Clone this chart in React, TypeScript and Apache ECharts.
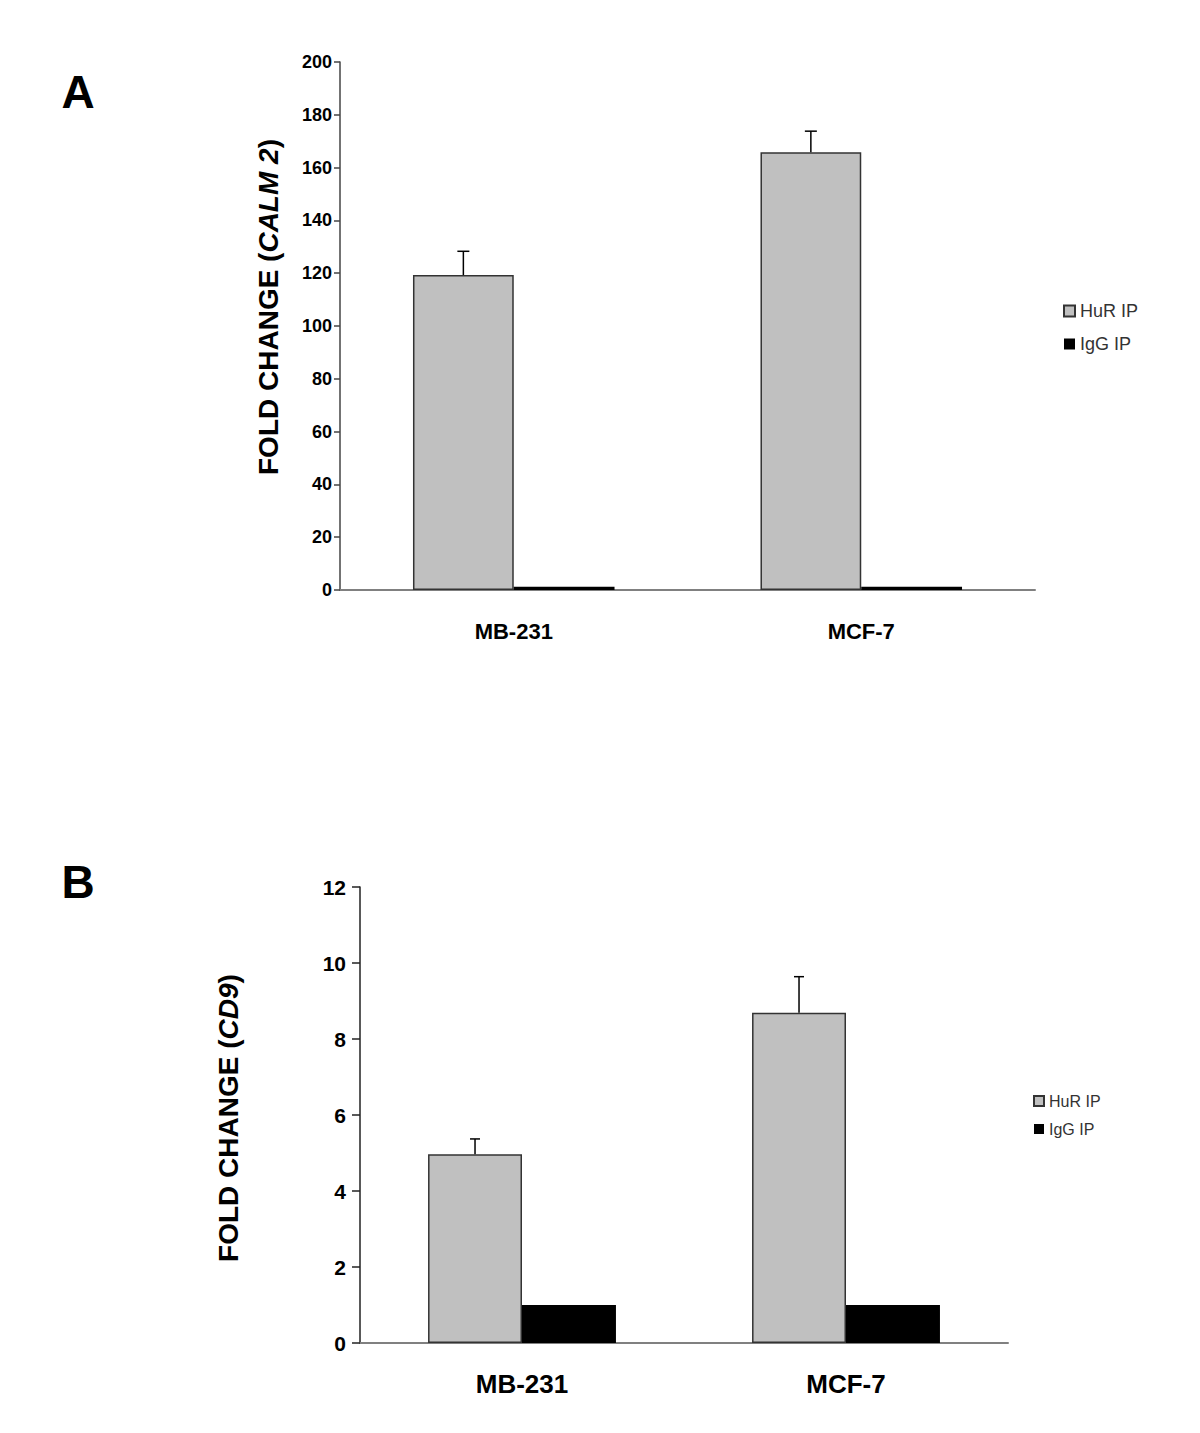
import React, { useEffect, useRef } from "react";
import * as echarts from "echarts";

const categories = ["MB-231", "MCF-7"];
const seriesNames = ["HuR IP", "IgG IP"];

// Panel A (CALM 2)
const hurA = [119.3, 165.8];
const hurErrA = [9, 8];
const iggA = [1.2, 1.2];
const ticksA = { min: 0, max: 200, interval: 20 };

// Panel B (CD9)
const hurB = [4.97, 8.69];
const hurErrB = [0.4, 0.95];
const iggB = [1.0, 1.0];
const ticksB = { min: 0, max: 12, interval: 2 };

const GAP = 0.42;
const NARROW = "'Liberation Sans Narrow', 'Arial Narrow', 'Liberation Sans', Arial, sans-serif";
const ARIAL = "'Liberation Sans', Arial, sans-serif";

function errorSeries(idx: number, values: number[], errs: number[], cap: number) {
  return {
    type: "custom",
    xAxisIndex: idx,
    yAxisIndex: idx,
    z: 5,
    silent: true,
    encode: { x: 0, y: 1 },
    data: values.map((v, i) => [i, v, errs[i]]),
    renderItem: (params: any, api: any) => {
      const ci = api.value(0);
      const v = api.value(1);
      const e = api.value(2);
      const base = api.coord([ci, v]);
      const topPt = api.coord([ci, v + e]);
      const band = api.size([1, 0])[0];
      const barW = (band * (1 - GAP)) / 2;
      const cx = base[0] - barW / 2;
      const style = { stroke: "#000", lineWidth: 1.5 };
      return {
        type: "group",
        children: [
          { type: "line", shape: { x1: cx, y1: base[1], x2: cx, y2: topPt[1] }, style },
          { type: "line", shape: { x1: cx - cap, y1: topPt[1], x2: cx + cap, y2: topPt[1] }, style },
        ],
      };
    },
  };
}

function titleText(x: number, y: number, italicPart: string) {
  return {
    type: "text",
    x,
    y,
    rotation: Math.PI / 2,
    style: {
      text: "{n|FOLD CHANGE (}{i|" + italicPart + "}{n|)}",
      align: "center",
      verticalAlign: "middle",
      rich: {
        n: { fontSize: 28, fontWeight: "bold", fontFamily: ARIAL, fill: "#000", color: "#000" },
        i: { fontSize: 28, fontWeight: "bold", fontStyle: "italic", fontFamily: ARIAL, fill: "#000", color: "#000" },
      },
    },
  };
}

export default function App() {
  const ref = useRef<HTMLDivElement>(null);
  useEffect(() => {
    document.body.style.margin = "0";
    const chart = echarts.init(ref.current!, null, { renderer: "svg" });
    const hurStyle = { color: "#c0c0c0", borderColor: "#333", borderWidth: 1.5 };
    const iggStyle = { color: "#000" };
    const option: any = {
      animation: false,
      backgroundColor: "#fff",
      grid: [
        { left: 340, top: 62, width: 695, height: 528 },
        { left: 360, top: 887, width: 648, height: 456 },
      ],
      legend: [
        {
          data: seriesNames,
          orient: "vertical",
          left: 1058,
          top: 297,
          itemWidth: 11,
          itemHeight: 11,
          itemGap: 15,
          icon: "rect",
          textStyle: { fontSize: 18, color: "#333", fontFamily: ARIAL },
        },
        {
          data: seriesNames,
          orient: "vertical",
          left: 1028,
          top: 1088,
          itemWidth: 10,
          itemHeight: 10,
          itemGap: 12,
          icon: "rect",
          textStyle: { fontSize: 16, color: "#333", fontFamily: ARIAL },
        },
      ],
      xAxis: [0, 1].map((i) => ({
        type: "category",
        gridIndex: i,
        data: categories,
        axisTick: { show: false },
        axisLine: { lineStyle: { color: "#808080", width: 2 } },
        axisLabel: {
          color: "#000",
          fontWeight: "bold",
          fontFamily: NARROW,
          fontSize: i === 0 ? 22 : 26,
          margin: i === 0 ? 30 : 28,
        },
      })),
      yAxis: [
        {
          type: "value",
          gridIndex: 0,
          ...ticksA,
          splitLine: { show: false },
          axisLine: { show: true, lineStyle: { color: "#444", width: 1.5 } },
          axisTick: { show: true, length: 6, lineStyle: { color: "#444", width: 1.5 } },
          axisLabel: { color: "#000", fontWeight: "bold", fontFamily: ARIAL, fontSize: 18, margin: 8 },
        },
        {
          type: "value",
          gridIndex: 1,
          ...ticksB,
          splitLine: { show: false },
          axisLine: { show: true, lineStyle: { color: "#222", width: 1.5 } },
          axisTick: { show: true, length: 8, lineStyle: { color: "#222", width: 1.5 } },
          axisLabel: { color: "#000", fontWeight: "bold", fontFamily: NARROW, fontSize: 21, margin: 14 },
        },
      ],
      series: [
        { name: "HuR IP", type: "bar", xAxisIndex: 0, yAxisIndex: 0, data: hurA, barGap: "0%", barCategoryGap: "42%", itemStyle: hurStyle },
        { name: "IgG IP", type: "bar", xAxisIndex: 0, yAxisIndex: 0, data: iggA, barGap: "0%", barCategoryGap: "42%", itemStyle: iggStyle },
        { name: "HuR IP", type: "bar", xAxisIndex: 1, yAxisIndex: 1, data: hurB, barGap: "0%", barCategoryGap: "42%", itemStyle: hurStyle },
        { name: "IgG IP", type: "bar", xAxisIndex: 1, yAxisIndex: 1, data: iggB, barGap: "0%", barCategoryGap: "42%", itemStyle: iggStyle },
        errorSeries(0, hurA, hurErrA, 6),
        errorSeries(1, hurB, hurErrB, 5),
      ],
      graphic: [
        {
          type: "text",
          x: 78,
          y: 92,
          style: { text: "A", fontSize: 46, fontWeight: "bold", fontFamily: ARIAL, fill: "#000", align: "center", verticalAlign: "middle" },
        },
        {
          type: "text",
          x: 78,
          y: 882,
          style: { text: "B", fontSize: 46, fontWeight: "bold", fontFamily: ARIAL, fill: "#000", align: "center", verticalAlign: "middle" },
        },
        titleText(268, 307, "CALM 2"),
        titleText(228, 1118, "CD9"),
      ],
    };
    chart.setOption(option);
    return () => chart.dispose();
  }, []);
  return <div ref={ref} style={{ width: 1200, height: 1433 }} />;
}
